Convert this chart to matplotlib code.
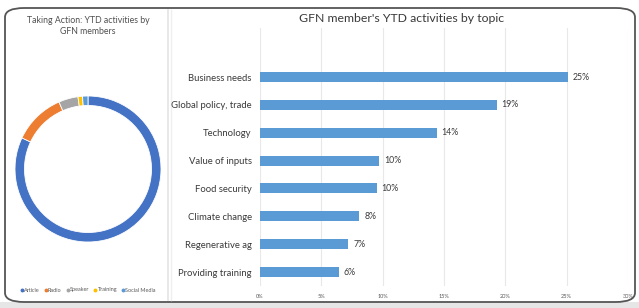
import matplotlib.pyplot as plt
from matplotlib.patches import FancyBboxPatch, Rectangle
from matplotlib.lines import Line2D

plt.rcParams['font.family'] = ['Lato', 'DejaVu Sans']

# donut data
activities = ['Article', 'Radio', 'Speaker', 'Training', 'Social Media']
activity_share = [82.0, 11.5, 4.3, 1.0, 1.2]
activity_colors = ['#4472c4', '#ed7d31', '#a5a5a5', '#ffc000', '#5b9bd5']

# bar data
topics = ['Business needs', 'Global policy, trade', 'Technology', 'Value of inputs',
          'Food security', 'Climate change', 'Regenerative ag', 'Providing training']
topic_share = [0.251, 0.193, 0.144, 0.097, 0.095, 0.081, 0.072, 0.064]
topic_labels = ['25%', '19%', '14%', '10%', '10%', '8%', '7%', '6%']
xticks = [0, 0.05, 0.10, 0.15, 0.20, 0.25, 0.30]
xtick_labels = ['0%', '5%', '10%', '15%', '20%', '25%', '30%']

W, H = 639, 308
fig = plt.figure(figsize=(W / 100, H / 100), dpi=100)
fig.patch.set_facecolor('white')


def fx(px):
    return px / W


def fy(py):
    return 1 - py / H


# background strip and frame
fig.add_artist(Rectangle((0, 0), 1, fy(302), transform=fig.transFigure,
                         facecolor='#e6e6e6', edgecolor='none', zorder=-3))
fig.add_artist(FancyBboxPatch((fx(5), fy(302)), fx(630), (302 - 8) / H,
                              boxstyle='round,pad=0,rounding_size=0.03',
                              transform=fig.transFigure, facecolor='white',
                              edgecolor='#555555', lw=1.3, zorder=-2))
fig.add_artist(Line2D([fx(168), fx(168)], [fy(10), fy(300)], transform=fig.transFigure,
                      color='#e4e4e4', lw=1.2, zorder=-1))
fig.add_artist(Line2D([fx(171), fx(171)], [fy(10), fy(300)], transform=fig.transFigure,
                      color='#efefef', lw=1.0, zorder=-1))

# donut chart
r = 73
axd = fig.add_axes([fx(88 - r), fy(169 + r), 2 * r / W, 2 * r / H])
axd.pie(activity_share, colors=activity_colors, startangle=90, counterclock=False,
        radius=1, wedgeprops=dict(width=0.13, edgecolor='white', linewidth=0.6))
axd.set_aspect('equal')
axd.set_xlim(-1, 1)
axd.set_ylim(-1, 1)
axd.patch.set_alpha(0)

fig.text(fx(88), fy(26), 'Taking Action: YTD activities by\nGFN members', ha='center',
         va='center', fontsize=6.3, color='#505050', linespacing=1.3)

handles = [Line2D([], [], marker='o', ls='none', color=c, markersize=1.8) for c in activity_colors]
fig.legend(handles, activities, loc='center', bbox_to_anchor=(fx(88), fy(290)), ncol=5,
           fontsize=4, frameon=False, handletextpad=0.1, columnspacing=0.8,
           handlelength=0.6, labelcolor='#595959')

# bar chart
ax = fig.add_axes([fx(260), fy(286), fx(628 - 260), (286 - 28) / H])
ax.patch.set_alpha(0)
y = list(range(len(topics)))
ax.barh(y, topic_share, height=0.36, color='#5b9bd5', zorder=2)
for yi, v, lab in zip(y, topic_share, topic_labels):
    ax.text(v + 0.004, yi, lab, va='center', ha='left', fontsize=6.3, color='#3a3a3a')
ax.set_yticks(y)
ax.set_yticklabels(topics, fontsize=6.8, color='#3a3a3a')
ax.set_ylim(7.5, -1.76)
ax.set_xlim(0, 0.30)
ax.set_xticks(xticks)
ax.set_xticklabels(xtick_labels, fontsize=4, color='#595959')
ax.tick_params(length=0, pad=6)
ax.tick_params(axis='y', pad=6)
ax.grid(axis='x', color='#e8e8e8', lw=0.8, zorder=0)
for s in ax.spines.values():
    s.set_visible(False)

fig.text(fx(402), fy(19), "GFN member's YTD activities by topic", ha='center', va='center',
         fontsize=8.8, color='#3a3a3a')

fig.savefig('out.png', dpi=100)
